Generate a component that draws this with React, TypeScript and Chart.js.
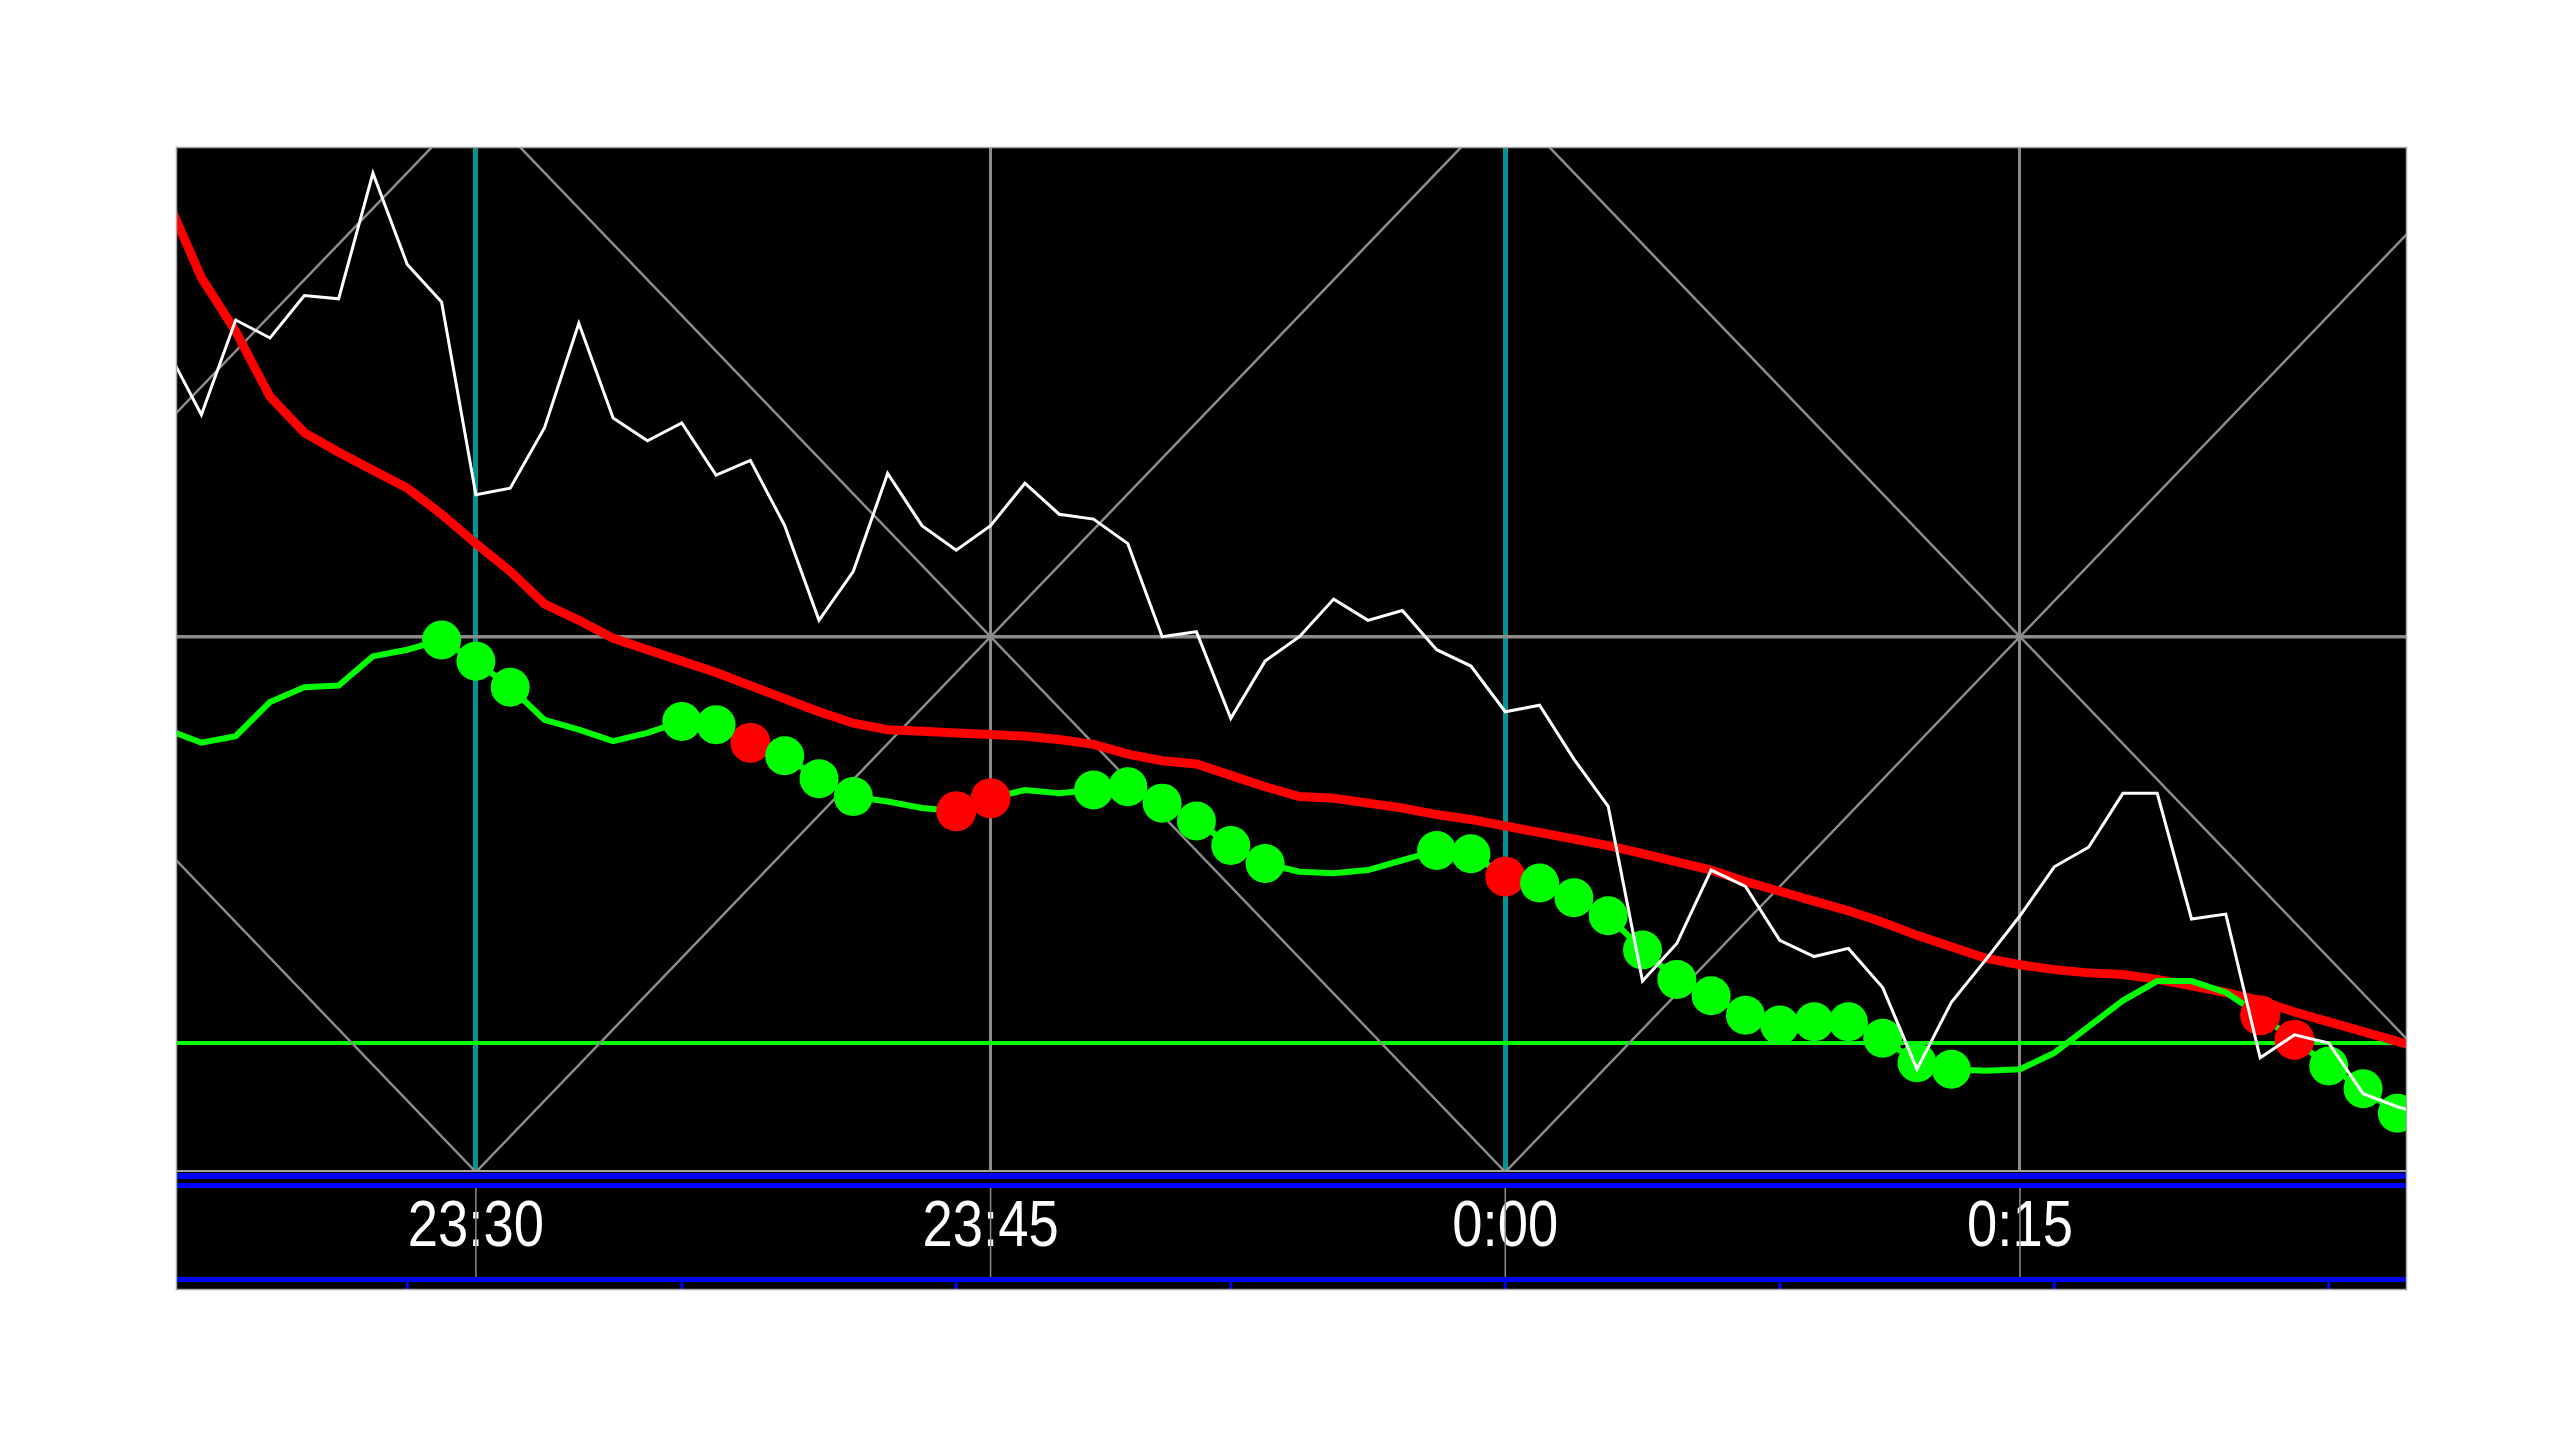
import React, { useEffect, useRef } from "react";
import { Chart, registerables } from "chart.js";

Chart.register(...registerables);

// ---- data (one bar per minute) ----
const barTimes = [
  "23:21", "23:22", "23:23", "23:24", "23:25", "23:26", "23:27", "23:28", "23:29", "23:30",
  "23:31", "23:32", "23:33", "23:34", "23:35", "23:36", "23:37", "23:38", "23:39", "23:40",
  "23:41", "23:42", "23:43", "23:44", "23:45", "23:46", "23:47", "23:48", "23:49", "23:50",
  "23:51", "23:52", "23:53", "23:54", "23:55", "23:56", "23:57", "23:58", "23:59", "0:00",
  "0:01", "0:02", "0:03", "0:04", "0:05", "0:06", "0:07", "0:08", "0:09", "0:10",
  "0:11", "0:12", "0:13", "0:14", "0:15", "0:16", "0:17", "0:18", "0:19", "0:20",
  "0:21", "0:22", "0:23", "0:24", "0:25", "0:26", "0:27",
];

// white price line
const priceLine = [
  504, 464, 522, 511, 537, 535, 612, 556, 533, 415,
  419, 456, 520, 462, 448, 459, 427, 436, 396, 338,
  368, 428, 396, 381, 396, 422, 403, 400, 385, 328,
  331, 278, 313, 328, 351, 338, 344, 320, 310, 282,
  286, 253, 224, 117, 140, 185, 175, 142, 132, 137,
  113, 63, 104, 130, 157, 187, 199, 232, 232, 155,
  158, 70, 84, 79, 48, 40, 34,
];

// red moving average
const averageLine = [
  596, 548, 515, 475, 453, 441, 430, 419, 403, 385,
  368, 348, 338, 327, 320, 313, 306, 298, 290, 282,
  275, 271, 270, 269, 268, 267, 265, 262, 256, 252,
  250, 243, 236, 230, 229, 226, 223, 219, 216, 212,
  208, 204, 200, 195, 190, 185, 178, 172, 166, 160,
  153, 145, 138, 131, 127, 124, 122, 121, 118, 114,
  110, 105, 98, 92, 86, 80, 74,
];

// green signal line
const signalLine = [
  271, 263, 267, 288, 297, 298, 316, 320, 326, 313,
  297, 277, 271, 264, 269, 276, 274, 263, 255, 241,
  230, 227, 223, 221, 229, 234, 232, 234, 236, 226,
  215, 200, 189, 184, 183, 185, 191, 197, 195, 181,
  177, 168, 157, 136, 118, 108, 96, 90, 92, 92,
  82, 67, 63, 62, 63, 73, 89, 105, 117, 117,
  110, 96, 81, 65, 51, 36, 23,
];

const greenMarkerTimes = [
  "23:29", "23:30", "23:31", "23:36", "23:37", "23:39", "23:40", "23:41",
  "23:48", "23:49", "23:50", "23:51", "23:52", "23:53", "23:58", "23:59",
  "0:01", "0:02", "0:03", "0:04", "0:05", "0:06", "0:07", "0:08", "0:09",
  "0:10", "0:11", "0:12", "0:13", "0:24", "0:25", "0:26",
];
const redMarkerTimes = ["23:38", "23:44", "23:45", "0:00", "0:22", "0:23"];

const axisTickTimes = ["23:30", "23:45", "0:00", "0:15"];
const tealTickTimes = ["23:30", "0:00"];
const subTickTimes = ["23:28", "23:36", "23:44", "23:52", "0:00", "0:08", "0:16", "0:24"];

const gannVertexTimes = ["23:00", "23:30", "0:00", "0:30"];
const gannHalfSpan = [15]; // minutes from vertex to the crossing level
const gannLevel = [328];
const supportLevel = [79];

const viewRange = [-38.74, 26.28]; // minutes relative to 0:00
const valueRange = [0, 628];

// ---- helpers ----
const toMin = (t: string) => {
  const [h, m] = t.split(":").map(Number);
  const v = h * 60 + m;
  return h >= 12 ? v - 1440 : v;
};
const fmt = (v: number) => {
  const total = Math.round(v) + 1440;
  const h = Math.floor(total / 60) % 24;
  const m = total % 60;
  return `${h}:${m < 10 ? "0" + m : m}`;
};
const series = (vals: number[]) => barTimes.map((t, i) => ({ x: toMin(t), y: vals[i] }));
const markers = (times: string[]) =>
  times.map((t) => ({ x: toMin(t), y: signalLine[barTimes.indexOf(t)] }));

const framePlugin = {
  id: "frame",
  beforeDraw(chart: any) {
    const { ctx, chartArea: ca } = chart;
    const xs = chart.scales.x;
    ctx.save();
    ctx.fillStyle = "#000000";
    ctx.fillRect(ca.left, ca.top, ca.right - ca.left, xs.bottom - ca.top);
    ctx.restore();
  },
  afterDraw(chart: any) {
    const { ctx, chartArea: ca } = chart;
    const xs = chart.scales.x;
    const L = ca.left;
    const R = ca.right;
    const W = R - L;
    const b = ca.bottom;
    const bb = xs.bottom;
    ctx.save();
    ctx.fillStyle = "#a4a496";
    ctx.fillRect(L, b - 2, W, 2);
    ctx.fillStyle = "#0000ff";
    ctx.fillRect(L, b + 1, W, 6);
    ctx.fillRect(L, b + 11, W, 5);
    ctx.fillRect(L, bb - 13, W, 5);
    subTickTimes.forEach((t) => {
      const x = xs.getPixelForValue(toMin(t));
      if (x >= L && x <= R) ctx.fillRect(x - 1.5, bb - 9, 3, 8);
    });
    // labels
    ctx.fillStyle = "#ffffff";
    ctx.font = "64px 'Liberation Sans', Arial, sans-serif";
    ctx.textAlign = "center";
    ctx.textBaseline = "alphabetic";
    xs.ticks.forEach((tk: any) => {
      const x = xs.getPixelForValue(tk.value);
      ctx.save();
      ctx.translate(x, 1246);
      ctx.scale(0.85, 1);
      ctx.fillText(fmt(tk.value), 0, 0);
      ctx.restore();
    });
    ctx.fillStyle = "#8a8a8a";
    xs.ticks.forEach((tk: any) => {
      const x = xs.getPixelForValue(tk.value);
      ctx.fillRect(x - 0.75, b + 16, 1.5, bb - 13 - (b + 16));
    });
    ctx.strokeStyle = "#a8a8a8";
    ctx.lineWidth = 1.5;
    ctx.strokeRect(L + 0.5, ca.top + 0.5, W - 1, bb - ca.top - 1);
    ctx.restore();
  },
};

export default function App() {
  const ref = useRef<HTMLCanvasElement | null>(null);

  useEffect(() => {
    if (!ref.current) return;
    const tealSet = tealTickTimes.map(toMin);

    const gannSets = gannVertexTimes.map((t) => {
      const v = toMin(t);
      const span = gannHalfSpan[0] * 2;
      return {
        label: "gann " + t,
        data: [
          { x: v - span, y: gannLevel[0] * 2 },
          { x: v, y: 0 },
          { x: v + span, y: gannLevel[0] * 2 },
        ],
        borderColor: "#8c8c8c",
        borderWidth: 2.5,
        pointRadius: 0,
        tension: 0,
        order: 10,
      };
    });

    const chart = new Chart(ref.current, {
      type: "line",
      data: {
        datasets: [
          ...gannSets,
          {
            label: "average",
            data: series(averageLine),
            borderColor: "#ff0000",
            borderWidth: 9,
            pointRadius: 0,
            tension: 0,
            order: 5,
          },
          {
            label: "signal",
            data: series(signalLine),
            borderColor: "#00ff00",
            borderWidth: 6,
            pointRadius: 0,
            tension: 0,
            order: 4,
          },
          {
            label: "red markers",
            data: markers(redMarkerTimes),
            showLine: false,
            pointRadius: 20,
            pointBorderWidth: 0,
            pointBackgroundColor: "#ff0000",
            pointBorderColor: "#ff0000",
            order: 3,
          },
          {
            label: "green markers",
            data: markers(greenMarkerTimes),
            showLine: false,
            pointRadius: 19.5,
            pointBorderWidth: 0,
            pointBackgroundColor: "#00ff00",
            pointBorderColor: "#00ff00",
            order: 2,
          },
          {
            label: "price",
            data: series(priceLine),
            borderColor: "#ffffff",
            borderWidth: 3,
            pointRadius: 0,
            tension: 0,
            order: 1,
          },
        ] as any,
      },
      options: {
        animation: false,
        responsive: false,
        maintainAspectRatio: false,
        devicePixelRatio: 1,
        events: [],
        layout: { padding: { left: 176, top: 147, right: 153, bottom: 150 } },
        plugins: { legend: { display: false }, tooltip: { enabled: false } },
        scales: {
          x: {
            type: "linear",
            position: "bottom",
            min: viewRange[0],
            max: viewRange[1],
            afterBuildTicks: (s: any) => {
              s.ticks = axisTickTimes.map((t) => ({ value: toMin(t) }));
            },
            afterFit: (s: any) => {
              s.height = 118;
            },
            ticks: { display: false, callback: (v: any) => fmt(Number(v)) },
            grid: {
              color: (c: any) =>
                c.tick && tealSet.includes(c.tick.value) ? "rgba(0,0,0,0)" : "#8a8a8a",
              lineWidth: 3,
              drawTicks: false,
            },
            border: { display: false },
          },
          xTeal: {
            type: "linear",
            position: "bottom",
            min: viewRange[0],
            max: viewRange[1],
            z: 1,
            afterBuildTicks: (s: any) => {
              s.ticks = tealTickTimes.map((t) => ({ value: toMin(t) }));
            },
            afterFit: (s: any) => {
              s.height = 0;
            },
            ticks: { display: false },
            grid: { color: "#009494", lineWidth: 5, drawTicks: false },
            border: { display: false },
          },
          y: {
            type: "linear",
            min: valueRange[0],
            max: valueRange[1],
            afterBuildTicks: (s: any) => {
              s.ticks = [supportLevel[0], gannLevel[0]].map((v) => ({ value: v }));
            },
            afterFit: (s: any) => {
              s.width = 0;
            },
            ticks: { display: false },
            grid: {
              color: (c: any) =>
                c.tick && c.tick.value === supportLevel[0] ? "#00ff00" : "#8a8a8a",
              lineWidth: (c: any) => (c.tick && c.tick.value === supportLevel[0] ? 4 : 3.5),
              drawTicks: false,
            },
            border: { display: false },
          },
        } as any,
      },
      plugins: [framePlugin],
    });
    return () => chart.destroy();
  }, []);

  return (
    <div
      style={{
        position: "fixed",
        left: 0,
        top: 0,
        width: 2560,
        height: 1440,
        background: "#ffffff",
      }}
    >
      <canvas ref={ref} width={2560} height={1440} style={{ display: "block" }} />
    </div>
  );
}
